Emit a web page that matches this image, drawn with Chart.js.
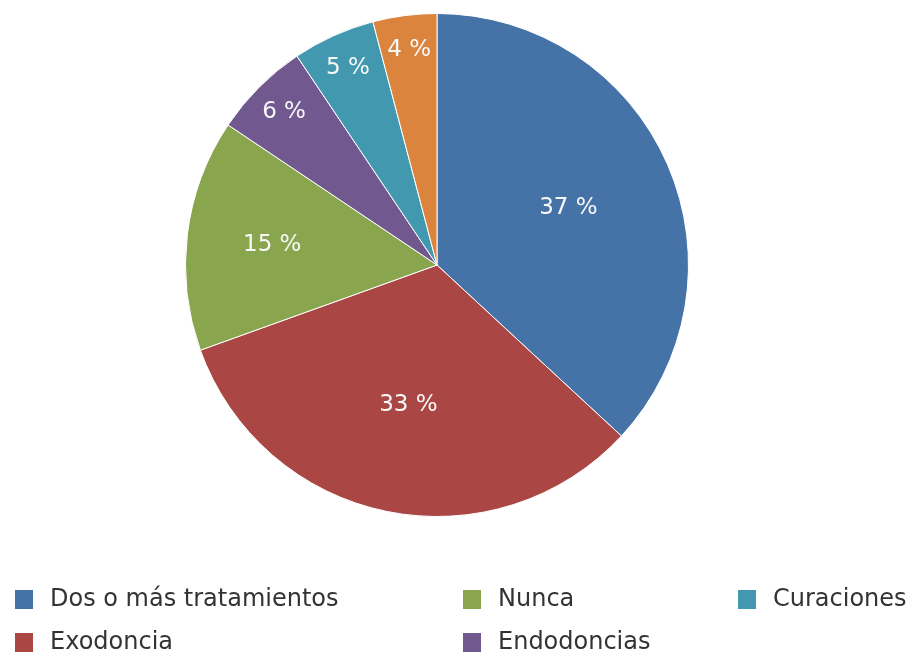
<!DOCTYPE html>
<html>
<head>
<meta charset="utf-8">
<script src="https://cdn.jsdelivr.net/npm/chart.js@4/dist/chart.umd.min.js"></script>
<style>
  body { margin: 0; background: #fff; width: 912px; height: 655px; overflow: hidden; position: relative; }
  #wrap { position: absolute; left: 0; top: 0; width: 912px; height: 530px; }
  #legend { position: absolute; left: 0; top: 0; width: 912px; height: 655px; font-family: "DejaVu Sans", sans-serif; font-size: 24px; color: #333; }
  .item { position: absolute; height: 30px; white-space: nowrap; }
  .box { position: absolute; left: 0; top: 0; width: 18px; height: 19px; }
  .txt { position: absolute; left: 35px; top: -7px; line-height: 30px; }
</style>
</head>
<body>
<div id="wrap"><canvas id="chart" width="912" height="530"></canvas></div>
<div id="legend"></div>
<script>
// categories + values (percent), clockwise from 12 o'clock
const categories = ["Dos o más tratamientos", "Exodoncia", "Nunca", "Endodoncias", "Curaciones", "Otros"];
const values = [36.9, 32.6, 14.9, 6.2, 5.3, 4.1];
const colors = ["#4572A7", "#AA4643", "#89A54E", "#71588F", "#4198AF", "#DB843D"];

// legend grid: which category sits where; the last one is cut off in the original
const legendOrder = [0, 1, 2, 3, 4];
const legendCols = [15, 463, 738];
const legendRows = [590, 633];

// 🏷 percentage labels inside slices
const sliceLabels = {
    id: 'sliceLabels',
    afterDatasetsDraw(c) {
        const ctx = c.ctx;
        const meta = c.getDatasetMeta(0);
        ctx.save();
        ctx.font = '23px "DejaVu Sans", sans-serif';
        ctx.fillStyle = '#f8f8f8';
        ctx.textAlign = 'center';
        ctx.textBaseline = 'middle';
        meta.data.forEach((arc, i) => {
            const p = arc.getProps(['x', 'y', 'startAngle', 'endAngle', 'outerRadius'], true);
            const mid = (p.startAngle + p.endAngle) / 2;
            // big slices: label nearer the centre, thin ones near the rim
            const f = values[i] >= 20 ? 0.57 : values[i] >= 10 ? 0.66 : 0.86;
            const x = p.x + Math.cos(mid) * p.outerRadius * f;
            const y = p.y + Math.sin(mid) * p.outerRadius * f;
            ctx.fillText(Math.round(values[i]) + ' %', x, y);
        });
        ctx.restore();
    }
};

new Chart(document.getElementById('chart'), {
    type: 'pie',
    data: {
        labels: categories,
        datasets: [{
            data: values,
            backgroundColor: colors,
            borderColor: '#ffffff',
            borderWidth: 1
        }]
    },
    options: {
        responsive: false,
        animation: false,
        devicePixelRatio: 1,
        layout: { padding: { left: 0, right: 38, top: 13, bottom: 13 } },
        plugins: {
            legend: { display: false },
            tooltip: { enabled: false }
        }
    },
    plugins: [sliceLabels]
});

// 📋 legend, column-major in 3 columns
const legendEl = document.getElementById('legend');
legendOrder.forEach((idx, n) => {
    const col = Math.floor(n / 2), row = n % 2;
    const item = document.createElement('div');
    item.className = 'item';
    item.style.left = legendCols[col] + 'px';
    item.style.top = legendRows[row] + 'px';
    item.innerHTML = '<span class="box" style="background:' + colors[idx] + '"></span><span class="txt">' + categories[idx] + '</span>';
    legendEl.appendChild(item);
});
</script>
</body>
</html>
